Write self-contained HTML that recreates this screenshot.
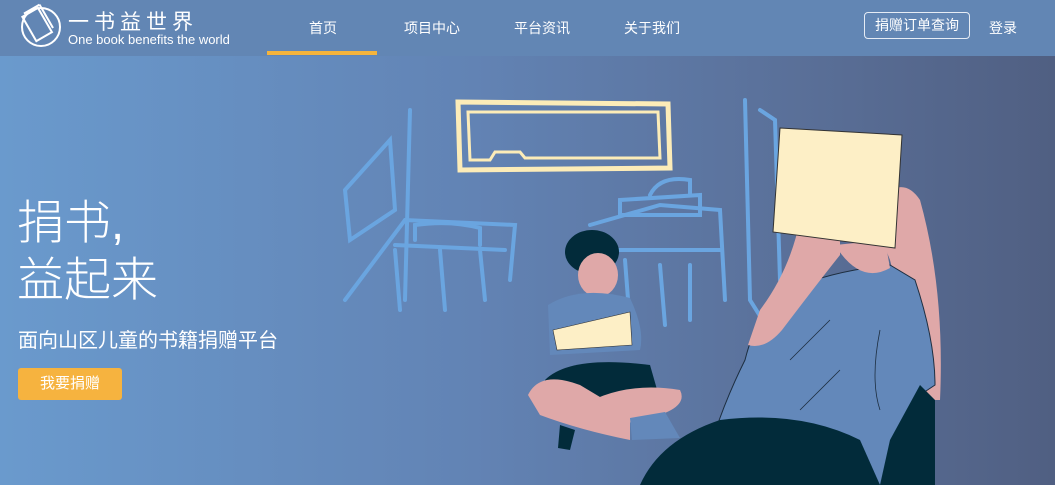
<!DOCTYPE html>
<html><head><meta charset="utf-8">
<style>
*{margin:0;padding:0;box-sizing:border-box}
body{width:1055px;height:485px;overflow:hidden;font-family:"Liberation Sans","Noto Sans CJK SC",sans-serif;color:#fff;position:relative;background:linear-gradient(90deg,#6a9acd 0%,#6283b4 45%,#5a7099 75%,#505f82 100%)}
.hdr{position:absolute;left:0;top:0;width:1055px;height:56px;background:#6286b4}
.nav a{position:absolute;top:18px;font-size:14px;color:#fff;text-decoration:none}
</style></head><body>
<div class="hdr">
 <svg style="position:absolute;left:18px;top:2px" width="46" height="46" viewBox="0 0 46 46">
  <circle cx="23" cy="25" r="19" fill="none" stroke="#fff" stroke-width="2"/>
  <g transform="rotate(-30 20 22)" fill="none" stroke="#fff" stroke-width="2"><rect x="10" y="8" width="18" height="28"/><line x1="13" y1="6" x2="31" y2="6"/><line x1="31" y1="6" x2="31" y2="33"/></g>
 </svg>
 <div style="position:absolute;left:68px;top:6px;font-size:21px;letter-spacing:5px">一书益世界</div>
 <div style="position:absolute;left:68px;top:32px;font-size:13px">One book benefits the world</div>
 <div class="nav">
  <a style="left:309px">首页</a>
  <a style="left:404px">项目中心</a>
  <a style="left:514px">平台资讯</a>
  <a style="left:624px">关于我们</a>
 </div>
 <div style="position:absolute;left:267px;top:51px;width:110px;height:4px;background:#f5b43c"></div>
 <div style="position:absolute;left:864px;top:12px;width:106px;height:27px;border:1px solid #e6ecf5;border-radius:4px;font-size:14px;text-align:center;line-height:25px">捐赠订单查询</div>
 <a style="position:absolute;left:989px;top:18px;font-size:14px;color:#fff">登录</a>
</div>

<svg style="position:absolute;left:0;top:56px" width="1055" height="429" viewBox="0 56 1055 429">
 <g fill="none" stroke="#6aa5e0" stroke-width="4" stroke-linecap="round">
  <path d="M410 110 L405 300 M345 300 L405 220 L515 225 L510 280"/>
  <path d="M345 190 L390 140 L395 210 L350 240 Z"/>
  <path d="M395 245 L505 250 M395 250 L400 310 M440 250 L445 310 M480 250 L485 300"/>
  <path d="M415 240 L415 225 Q450 220 480 228 L480 245"/>
  <path d="M590 225 L660 205 L720 210 L725 300 M600 250 L720 250"/>
  <path d="M620 200 L700 195 L700 215 L620 215 Z M650 195 Q660 175 690 180 L690 195"/>
  <path d="M625 260 L630 325 M660 265 L665 325 M690 265 L690 320"/>
  <path d="M745 100 L750 300 L775 340 M760 110 L775 120 L780 280"/>
 </g>
 <g fill="none" stroke="#fcecb8" stroke-width="5">
  <path d="M458 102 L668 104 L670 168 L460 170 Z"/>
  <path d="M468 112 L658 112 L660 158 L525 158 L520 152 L495 152 L490 160 L470 160 Z" stroke-width="3"/>
 </g>
 <!-- woman -->
 <path d="M870 210 Q900 170 920 200 Q945 290 940 400 L925 400 Q905 320 890 260 Z" fill="#dfa8a8"/>
 <path d="M700 485 Q715 420 745 360 Q760 300 800 285 Q840 270 890 265 L915 280 Q935 340 935 385 L920 395 L905 485 Z" fill="#6388ba" stroke="#1d2e40" stroke-width="1"/>
 <path d="M840 230 Q810 200 800 220 Q790 270 760 310 L748 345 Q765 350 782 330 Q820 280 840 255 Z" fill="#dfa8a8"/>
 <path d="M835 245 Q860 285 890 268 L885 240 Z" fill="#dfa8a8"/>
 <path d="M780 128 L902 135 L895 248 L773 232 Z" fill="#fdefc6" stroke="#333" stroke-width="1"/>
 <path d="M640 485 Q660 440 720 420 Q800 410 860 440 L880 485 Z" fill="#022b3a"/>
 <path d="M890 440 L920 385 L935 400 L935 485 L880 485 Z" fill="#022b3a"/>
 <g fill="none" stroke="#1d2e40" stroke-width="0.8"><path d="M790 360 Q820 330 830 320 M800 410 Q830 380 840 370 M880 330 Q870 380 880 410"/></g>
 <!-- boy -->
 <ellipse cx="592" cy="252" rx="27" ry="22" fill="#022b3a"/>
 <ellipse cx="598" cy="275" rx="20" ry="22" fill="#dfa8a8"/>
 <path d="M548 305 Q580 285 630 298 Q645 330 640 350 L550 355 Z" fill="#6388ba"/>
 <path d="M553 330 L630 312 L632 345 L557 350 Z" fill="#fdefc6" stroke="#333" stroke-width="0.6"/>
 <path d="M545 380 Q570 355 650 365 L660 400 Q600 410 550 395 Z" fill="#022b3a"/>
 <path d="M528 395 Q540 370 580 385 L630 415 L630 440 Q580 430 540 415 Z" fill="#dfa8a8"/>
 <path d="M575 410 Q620 380 680 390 Q690 410 640 420 L600 430 Z" fill="#dfa8a8"/>
 <path d="M630 418 L665 412 L680 438 L632 440 Z" fill="#6388ba"/>
 <path d="M560 425 L575 430 L570 450 L558 448 Z" fill="#022b3a"/>
</svg>

<div style="position:absolute;left:17px;top:194px;font-size:47px;line-height:57px;font-weight:300">捐书,<br>益起来</div>
<div style="position:absolute;left:18px;top:324px;font-size:20px">面向山区儿童的书籍捐赠平台</div>
<div style="position:absolute;left:18px;top:368px;width:104px;height:32px;background:#f6b33f;border-radius:3px;font-size:15px;line-height:32px;text-align:center">我要捐赠</div>
</body></html>
